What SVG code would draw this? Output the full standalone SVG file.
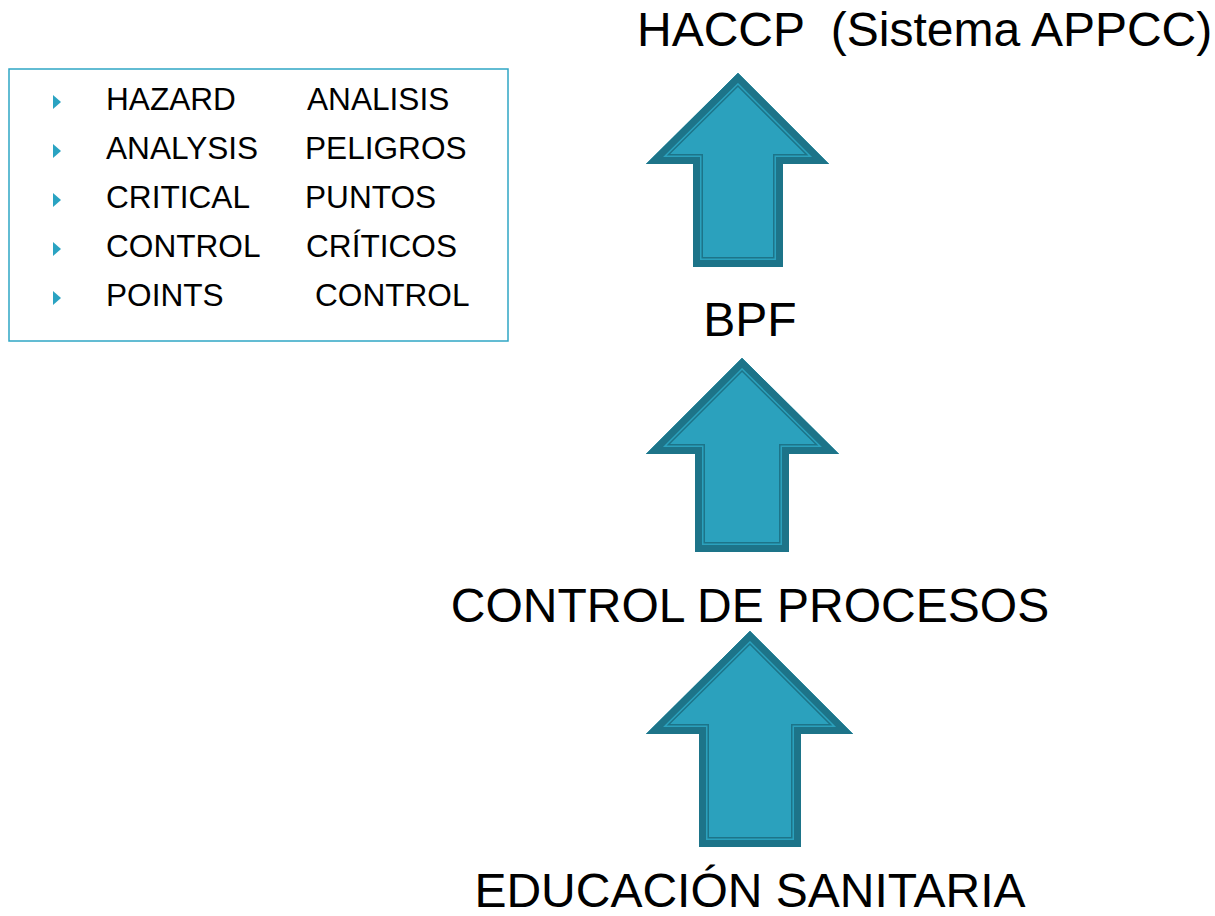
<svg xmlns="http://www.w3.org/2000/svg" xmlns:xlink="http://www.w3.org/1999/xlink" width="1215" height="916" viewBox="0 0 1215 916">
<style>
.t{font-family:"Liberation Sans",Arial,sans-serif;fill:#000}
.big{font-size:48px}
.sm{font-size:31.6px}
.fill{fill:#2ba1bd}
.b1{fill:none;stroke:#1d7489;stroke-width:20;stroke-linejoin:miter;stroke-miterlimit:10}
.b2{fill:none;stroke:#2ba1bd;stroke-width:17;stroke-linejoin:miter;stroke-miterlimit:10}
.b3{fill:none;stroke:#1d7489;stroke-width:14;stroke-linejoin:miter;stroke-miterlimit:10}
.bul{fill:#2aa3c2}
</style>
<defs>
<path id="a1" d="M738,73 L829,164 L783,164 L783,267 L693,267 L693,164 L646,164 Z"/>
<path id="a2" d="M742,358 L839,454 L789,454 L789,552 L695,552 L695,454 L646,454 Z"/>
<path id="a3" d="M750,631 L853,734 L801,734 L801,847 L699,847 L699,734 L646,734 Z"/>
<clipPath id="c1"><use xlink:href="#a1"/></clipPath>
<clipPath id="c2"><use xlink:href="#a2"/></clipPath>
<clipPath id="c3"><use xlink:href="#a3"/></clipPath>
</defs>

<g id="legend">
<rect x="9" y="69" width="499" height="272" fill="#fff" stroke="#2fa6c5" stroke-width="1.5"/>
<path class="bul" d="M53,95 L61,102 L53,109 Z"/>
<path class="bul" d="M53,144 L61,151 L53,158 Z"/>
<path class="bul" d="M53,193 L61,200 L53,207 Z"/>
<path class="bul" d="M53,242 L61,249 L53,256 Z"/>
<path class="bul" d="M53,291 L61,298 L53,305 Z"/>
<text class="t sm" x="106" y="110">HAZARD</text><text class="t sm" x="307" y="110">ANALISIS</text>
<text class="t sm" x="106" y="159">ANALYSIS</text><text class="t sm" x="305" y="159">PELIGROS</text>
<text class="t sm" x="106" y="208">CRITICAL</text><text class="t sm" x="305" y="208">PUNTOS</text>
<text class="t sm" x="106" y="257">CONTROL</text><text class="t sm" x="306" y="257">CRÍTICOS</text>
<text class="t sm" x="106" y="306">POINTS</text><text class="t sm" x="315" y="306">CONTROL</text>
</g>

<g id="haccp"><text class="t big" x="637" y="46" xml:space="preserve">HACCP  (Sistema APPCC)</text></g>
<g id="bpf"><text class="t big" x="750" y="336" text-anchor="middle">BPF</text></g>
<g id="control"><text class="t big" x="750" y="622" text-anchor="middle">CONTROL DE PROCESOS</text></g>
<g id="educacion"><text class="t big" x="750" y="907" text-anchor="middle">EDUCACIÓN SANITARIA</text></g>

<g id="connectors">
<g clip-path="url(#c1)"><use xlink:href="#a1" class="fill"/><use xlink:href="#a1" class="b1"/><use xlink:href="#a1" class="b2"/><use xlink:href="#a1" class="b3"/></g>
<g clip-path="url(#c2)"><use xlink:href="#a2" class="fill"/><use xlink:href="#a2" class="b1"/><use xlink:href="#a2" class="b2"/><use xlink:href="#a2" class="b3"/></g>
<g clip-path="url(#c3)"><use xlink:href="#a3" class="fill"/><use xlink:href="#a3" class="b1"/><use xlink:href="#a3" class="b2"/><use xlink:href="#a3" class="b3"/></g>
</g>
</svg>
